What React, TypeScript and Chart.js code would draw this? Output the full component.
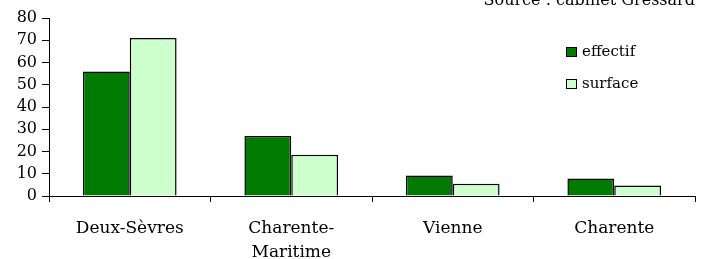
import React, { useEffect, useRef } from "react";
import { Chart, registerables } from "chart.js";

Chart.register(...registerables);

const categories: (string | string[])[] = ["Deux-Sèvres", ["Charente-", "Maritime"], "Vienne", "Charente"];
const effectif = [56, 27, 9.2, 7.9];
const surface = [71, 18.5, 5.5, 4.7];
const seriesNames = ["effectif", "surface"];
const sourceText = "Source : cabinet Gressard";

const FONT = "'DejaVu Serif', serif";

const overlay = {
  id: "overlay",
  afterDraw(chart: any) {
    const ctx = chart.ctx;
    ctx.save();
    ctx.font = `16px ${FONT}`;
    ctx.fillStyle = "#000";
    ctx.textAlign = "right";
    ctx.textBaseline = "alphabetic";
    ctx.fillText(sourceText, 695, 5);
    // legend
    const colors = chart.data.datasets.map((d: any) => d.backgroundColor);
    const ys = [52, 84];
    ctx.textAlign = "left";
    ctx.textBaseline = "middle";
    ctx.font = `15px ${FONT}`;
    seriesNames.forEach((n, i) => {
      ctx.fillStyle = colors[i];
      ctx.fillRect(566.5, ys[i] - 4.5, 10, 9);
      ctx.strokeStyle = "#000";
      ctx.lineWidth = 1;
      ctx.strokeRect(566.5, ys[i] - 4.5, 10, 9);
      ctx.fillStyle = "#000";
      ctx.fillText(n, 582, ys[i]);
    });
    ctx.restore();
  },
};

export default function App() {
  const ref = useRef<HTMLCanvasElement>(null);
  useEffect(() => {
    if (!ref.current) return;
    const chart = new Chart(ref.current, {
      type: "bar",
      data: {
        labels: categories,
        datasets: [
          { label: seriesNames[0], data: effectif, backgroundColor: "#007a00", borderColor: "#000", borderWidth: 1.5 },
          { label: seriesNames[1], data: surface, backgroundColor: "#ccffcc", borderColor: "#000", borderWidth: 1.5 },
        ],
      },
      options: {
        animation: false,
        responsive: false,
        maintainAspectRatio: false,
        datasets: { bar: { categoryPercentage: 0.58, barPercentage: 1 } } as any,
        layout: { padding: { top: 18, right: 10, left: 0, bottom: 0 } },
        plugins: { legend: { display: false }, tooltip: { enabled: false }, title: { display: false } },
        scales: {
          x: {
            grid: { display: true, drawOnChartArea: false, offset: true, color: "#000", tickLength: 6, lineWidth: 1 },
            border: { display: true, color: "#000", width: 1 },
            ticks: { color: "#000", font: { family: FONT, size: 17, lineHeight: 1.45 }, padding: 14, maxRotation: 0 },
            afterFit: (s: any) => { s.height = 63; },
          },
          y: {
            min: 0,
            max: 80,
            grid: { display: true, drawOnChartArea: false, color: "#000", tickLength: 7 },
            border: { display: true, color: "#000", width: 1 },
            ticks: { stepSize: 10, color: "#000", font: { family: FONT, size: 16 }, padding: 5 },
            afterFit: (s: any) => { s.width = 49; },
          },
        },
      },
      plugins: [overlay],
    });
    return () => chart.destroy();
  }, []);
  return (
    <div style={{ position: "fixed", left: 0, top: 0, width: 705, height: 259, background: "#fff" }}>
      <canvas ref={ref} width={705} height={259} style={{ width: 705, height: 259 }} />
    </div>
  );
}
